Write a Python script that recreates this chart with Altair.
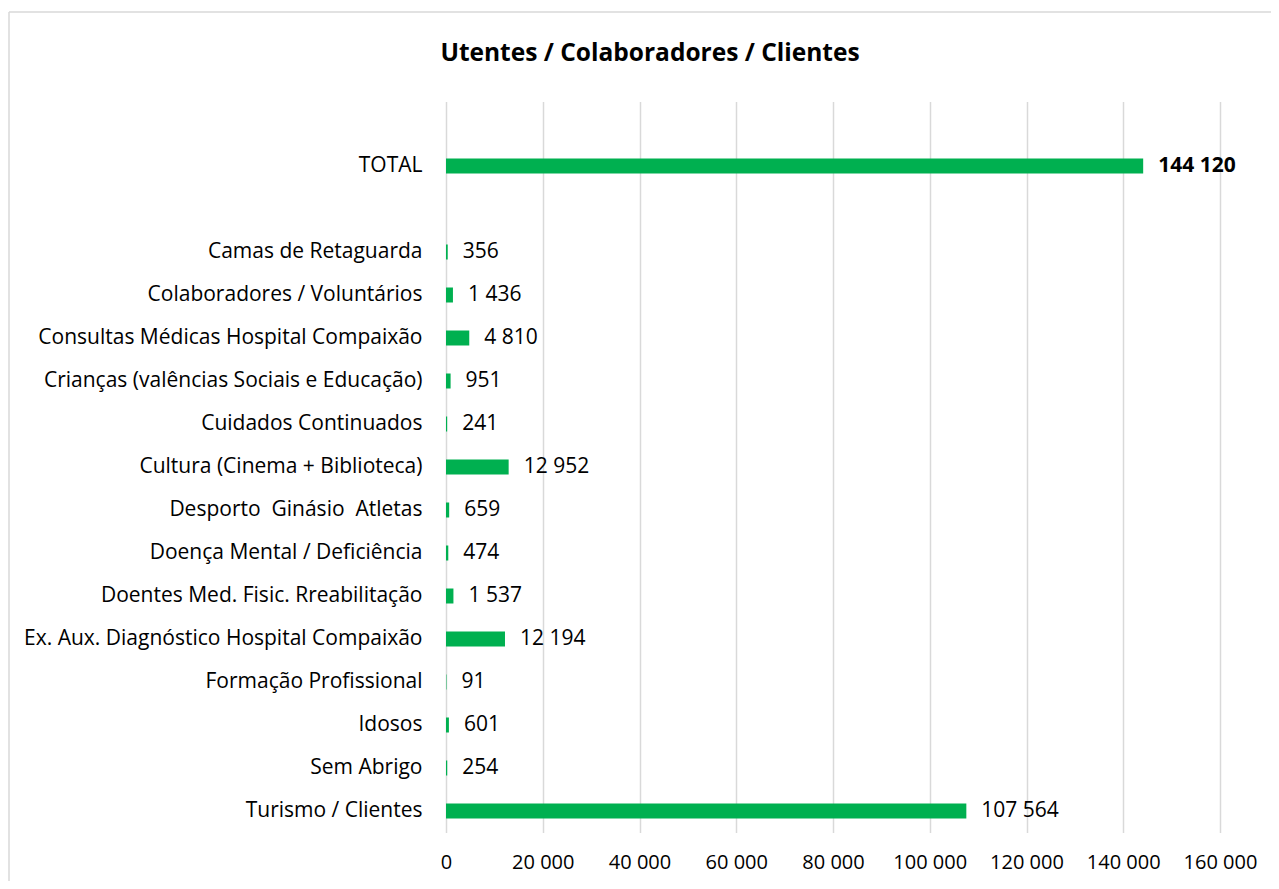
import altair as alt
import pandas as pd

title_text = "Utentes / Colaboradores / Clientes"
categories = [
    "TOTAL",
    "Camas de Retaguarda",
    "Colaboradores / Voluntários",
    "Consultas Médicas Hospital Compaixão",
    "Crianças (valências Sociais e Educação)",
    "Cuidados Continuados",
    "Cultura (Cinema + Biblioteca)",
    "Desporto\u00a0 Ginásio\u00a0 Atletas",
    "Doença Mental / Deficiência",
    "Doentes Med. Fisic. Rreabilitação",
    "Ex. Aux. Diagnóstico Hospital Compaixão",
    "Formação Profissional",
    "Idosos",
    "Sem Abrigo",
    "Turismo / Clientes",
]
values = [144120, 356, 1436, 4810, 951, 241, 12952, 659, 474, 1537, 12194, 91, 601, 254, 107564]
x_ticks = [0, 20000, 40000, 60000, 80000, 100000, 120000, 140000, 160000]

domain = ["\u200b", "TOTAL", "\u200b\u200b"] + categories[1:]


def fmt(v):
    return f"{v:,}".replace(",", " ")


df = pd.DataFrame({
    "cat": categories,
    "value": values,
    "label": [fmt(v) for v in values],
    "total": [c == "TOTAL" for c in categories],
})

FONT = "Open Sans"
FS = 21
W, H = 774, 731

y_enc = alt.Y(
    "cat:N",
    scale=alt.Scale(domain=domain, paddingInner=28 / 43, paddingOuter=14 / 43),
    axis=alt.Axis(
        title=None, ticks=False, domain=False, labelPadding=24, labelFontSize=FS,
        labelFont=FONT, labelColor="#000000", labelLimit=500,
        labelExpr="replace(datum.label, regexp('\u200b', 'g'), '')",
    ),
)
x_enc = alt.X(
    "value:Q",
    scale=alt.Scale(domain=[0, 160000], nice=False),
    axis=alt.Axis(
        title=None, values=x_ticks, ticks=False, domain=False, grid=True,
        gridColor="#d9d9d9", gridWidth=1.5, labelFontSize=20, labelFont=FONT,
        labelColor="#000000", labelPadding=20, labelOverlap=False, labelFlush=False,
        labelExpr="replace(format(datum.value, ','), regexp(',', 'g'), ' ')",
    ),
)

base = alt.Chart(df)
bars = base.mark_bar(color="#00b050").encode(x=x_enc, y=y_enc)
labels = base.transform_filter("!datum.total").mark_text(
    align="left", baseline="middle", dx=15, fontSize=FS, font=FONT, color="#000000"
).encode(x="value:Q", y=alt.Y("cat:N", scale=alt.Scale(domain=domain)), text="label:N")
total_label = base.transform_filter("datum.total").mark_text(
    align="left", baseline="middle", dx=15, fontSize=FS, font=FONT, fontWeight="bold",
    color="#000000"
).encode(x="value:Q", y=alt.Y("cat:N", scale=alt.Scale(domain=domain)), text="label:N")

one = pd.DataFrame({"t": [title_text]})
title = alt.Chart(one).mark_text(
    fontSize=24.5, fontWeight="bold", font=FONT, color="#000000", align="center",
    baseline="middle"
).encode(x=alt.value(204), y=alt.value(-47.5), text="t:N")
top_line = alt.Chart(one).mark_rule(color="#d9d9d9", strokeWidth=1.5).encode(
    x=alt.value(-437), x2=alt.value(1000), y=alt.value(-89.5)
)
left_line = alt.Chart(one).mark_rule(color="#d9d9d9", strokeWidth=1.5).encode(
    x=alt.value(-437), y=alt.value(-89.5), y2=alt.value(900)
)

chart = alt.layer(top_line, left_line, bars, labels, total_label, title).properties(
    width=W, height=H,
    background="#ffffff",
    autosize=alt.AutoSizeParams(type="none"),
    padding={"left": 438, "top": 93.5, "right": 51, "bottom": 48},
).configure_view(stroke=None)

chart.save("out.html", embed_options={"renderer": "svg", "actions": False})
